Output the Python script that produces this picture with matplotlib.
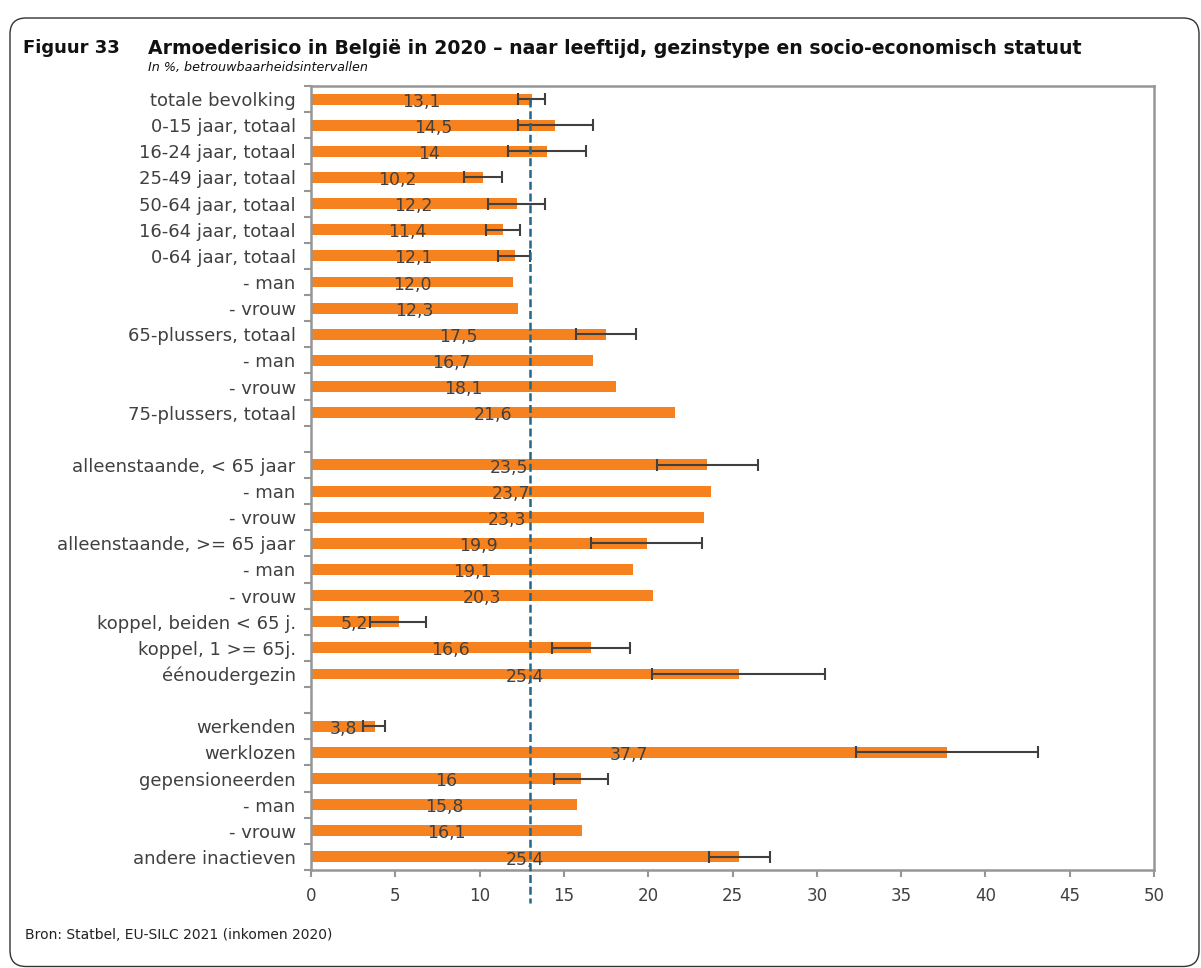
import numpy as np
import matplotlib
matplotlib.use("Agg")
import matplotlib.pyplot as plt
from matplotlib.patches import FancyBboxPatch
from matplotlib.ticker import FixedLocator

nan = np.nan

categories = [
    "totale bevolking", "0-15 jaar, totaal", "16-24 jaar, totaal", "25-49 jaar, totaal",
    "50-64 jaar, totaal", "16-64 jaar, totaal", "0-64 jaar, totaal", "- man", "- vrouw",
    "65-plussers, totaal", "- man", "- vrouw", "75-plussers, totaal", "",
    "alleenstaande, < 65 jaar", "- man", "- vrouw", "alleenstaande, >= 65 jaar", "- man",
    "- vrouw", "koppel, beiden < 65 j.", "koppel, 1 >= 65j.", "éénoudergezin", "",
    "werkenden", "werklozen", "gepensioneerden", "- man", "- vrouw", "andere inactieven",
]
values = [13.1, 14.5, 14.0, 10.2, 12.2, 11.4, 12.1, 12.0, 12.3, 17.5, 16.7, 18.1, 21.6, nan,
          23.5, 23.7, 23.3, 19.9, 19.1, 20.3, 5.2, 16.6, 25.4, nan,
          3.8, 37.7, 16.0, 15.8, 16.1, 25.4]
value_labels = ["13,1", "14,5", "14", "10,2", "12,2", "11,4", "12,1", "12,0", "12,3", "17,5",
                "16,7", "18,1", "21,6", "", "23,5", "23,7", "23,3", "19,9", "19,1", "20,3",
                "5,2", "16,6", "25,4", "", "3,8", "37,7", "16", "15,8", "16,1", "25,4"]
ci_low = [12.3, 12.3, 11.7, 9.1, 10.5, 10.4, 11.1, nan, nan, 15.7, nan, nan, nan, nan,
          20.5, nan, nan, 16.6, nan, nan, 3.5, 14.3, 20.2, nan,
          3.1, 32.3, 14.4, nan, nan, 23.6]
ci_high = [13.9, 16.7, 16.3, 11.3, 13.9, 12.4, 13.0, nan, nan, 19.3, nan, nan, nan, nan,
           26.5, nan, nan, 23.2, nan, nan, 6.8, 18.9, 30.5, nan,
           4.4, 43.1, 17.6, nan, nan, 27.2]
reference_value = 13.0
x_ticks = [0, 5, 10, 15, 20, 25, 30, 35, 40, 45, 50]

title_num = "Figuur 33"
title = "Armoederisico in België in 2020 – naar leeftijd, gezinstype en socio-economisch statuut"
subtitle = "In %, betrouwbaarheidsintervallen"
source = "Bron: Statbel, EU-SILC 2021 (inkomen 2020)"

ORANGE = "#F5821F"
TXT = "#404040"
GRID = "#969696"
DASH = "#23688A"

plt.rcParams['font.family'] = ['DejaVu Sans']

W, H = 1201, 968
fig = plt.figure(figsize=(W / 100, H / 100), dpi=100)

# outer rounded frame (pixel coordinates, origin bottom-left)
frame = FancyBboxPatch((10, 1.5), 1189, H - 18 - 1.5, boxstyle="round,pad=0,rounding_size=16",
                       transform=None, fill=False, edgecolor="#333333", linewidth=1.0)
fig.patches.append(frame)

ax = fig.add_axes([311 / W, 1 - 870 / H, (1154 - 311) / W, (870 - 86) / H])

vals = np.array(values, dtype=float)
lo = np.array(ci_low, dtype=float)
hi = np.array(ci_high, dtype=float)
pos = np.arange(len(categories))

ax.barh(pos, np.nan_to_num(vals), height=0.42, color=ORANGE, zorder=2)

m = ~np.isnan(lo)
ax.errorbar(vals[m], pos[m], xerr=[vals[m] - lo[m], hi[m] - vals[m]], fmt='none',
            ecolor="#404040", elinewidth=1.5, capsize=4, capthick=1.5, zorder=3)

for p, v, lab in zip(pos, vals, value_labels):
    if lab:
        ax.text(v / 2, p + 0.1, lab, ha='center', va='center', fontsize=12.5, color=TXT, zorder=4)

ax.plot([reference_value, reference_value], [0, len(categories) + 0.75], color=DASH,
        linewidth=1.8, dashes=(3.2, 1.5), clip_on=False, zorder=5)

ax.set_xlim(0, 50)
ax.set_ylim(len(categories) - 0.5, -0.5)
ax.set_xticks(x_ticks)
ax.set_xticklabels([str(t) for t in x_ticks])
ax.set_yticks(pos)
ax.set_yticklabels(categories)
ax.yaxis.set_minor_locator(FixedLocator(np.arange(len(categories) + 1) - 0.5))
ax.tick_params(axis='y', which='major', length=0, pad=11, labelsize=13, labelcolor=TXT)
ax.tick_params(axis='y', which='minor', length=5, width=1.5, color=GRID)
ax.tick_params(axis='x', which='major', length=5, width=1.5, color=GRID, pad=7,
               labelsize=12, labelcolor=TXT)
for s in ax.spines.values():
    s.set_color(GRID)
    s.set_linewidth(1.8)

fig.text(23 / W, 1 - 48 / H, title_num, fontsize=13, fontweight='bold', color='#111111', va='center')
fig.text(148 / W, 1 - 48 / H, title, fontsize=13.6, fontweight='bold', color='#111111', va='center')
fig.text(148 / W, 1 - 68 / H, subtitle, fontsize=9.2, style='italic', color='#111111', va='center')
fig.text(25 / W, 1 - 935 / H, source, fontsize=10, color='#222222', va='center')

fig.savefig("out.png", dpi=100)
